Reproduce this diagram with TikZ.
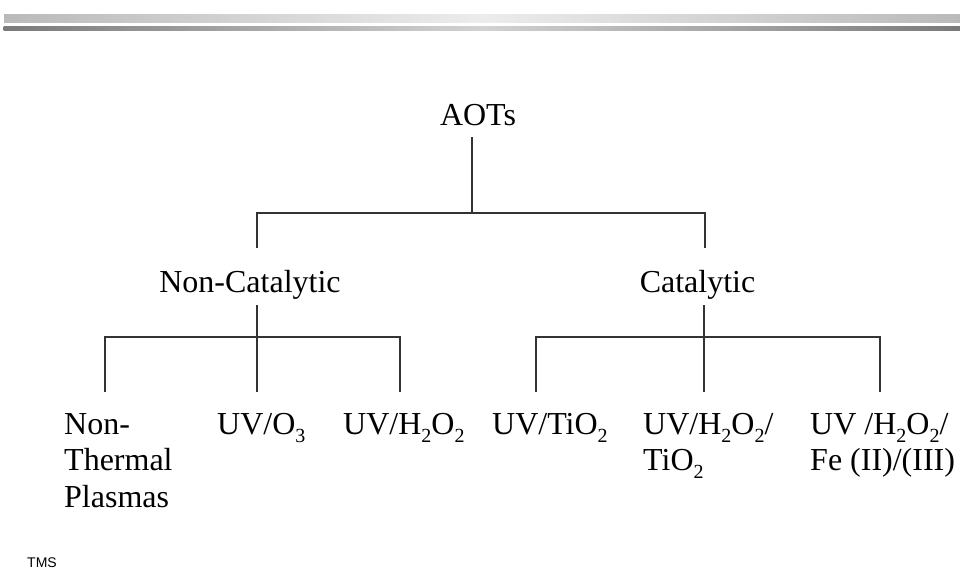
\documentclass[tikz,border=0pt]{standalone}
\usepackage{fontspec}
\setmainfont{Liberation Serif}
\newfontfamily\tmsfont{Liberation Sans}
\newcommand\sbx[1]{\raisebox{-8pt}{\fontsize{20}{20}\selectfont #1}}
\definecolor{barlight}{HTML}{BABABA}
\definecolor{barlightmid}{HTML}{ECECEC}
\definecolor{bardark}{HTML}{7A7A7A}
\definecolor{bardarkmid}{HTML}{D2D2D2}
\definecolor{linec}{HTML}{333333}
\begin{document}
\begin{tikzpicture}[x=1pt,y=-1pt,
  lbl/.style={inner sep=0pt, font=\fontsize{32}{36.5}\selectfont, text depth=0pt},
  leaf/.style={lbl, anchor=base west, align=left},
  conn/.style={draw=linec, line width=1.3pt}]
\useasboundingbox (0,0) rectangle (960,570);
% header bars
\shade[left color=barlight, right color=barlight, middle color=barlightmid] (4,14) rectangle (960,22);
\shade[left color=bardark, right color=bardark, middle color=bardarkmid] (3.5,26) rectangle (960,30);
% nodes (multi-line nodes are placed by the baseline of their last line)
\node[lbl, anchor=base] (aots) at (478,125) {AOTs};
\node[lbl, anchor=base] (noncat) at (250,292) {Non-Catalytic};
\node[lbl, anchor=base] (cat) at (697.5,292) {Catalytic};
\node[leaf] (ntp) at (64,507) {Non-\\Thermal\\Plasmas};
\node[leaf] (uvo3) at (217,434) {UV/O\sbx{3}};
\node[leaf] (uvh2o2) at (343,434) {UV/H\sbx{2}O\sbx{2}};
\node[leaf] (uvtio2) at (492,434) {UV/TiO\sbx{2}};
\node[leaf] (uvht) at (643,470.5) {UV/H\sbx{2}O\sbx{2}/\\TiO\sbx{2}};
\node[leaf] (uvhf) at (810,470.5) {UV /H\sbx{2}O\sbx{2}/\\Fe (II)/(III)};
\node[inner sep=0pt, anchor=base west, font=\tmsfont\fontsize{14}{14}\selectfont] (tms) at (27,567) {TMS};
% junction coordinates
\coordinate (a0) at (472,137);
\coordinate (a1) at (472,213);
\coordinate (al) at (257,213);
\coordinate (ar) at (705,213);
\coordinate (ald) at (257,248);
\coordinate (ard) at (705,248);
\coordinate (n0) at (257,305);
\coordinate (n1) at (257,337);
\coordinate (nl) at (105,337);
\coordinate (nr) at (400,337);
\coordinate (nld) at (105,392);
\coordinate (nmd) at (257,392);
\coordinate (nrd) at (400,392);
\coordinate (c0) at (704,305);
\coordinate (c1) at (704,337);
\coordinate (cl) at (536,337);
\coordinate (cr) at (880,337);
\coordinate (cld) at (536,392);
\coordinate (cmd) at (704,392);
\coordinate (crd) at (880,392);
% connectors
\draw[conn] (a0) -- (a1);
\draw[conn] (ald) -- (al) -- (ar) -- (ard);
\draw[conn] (n0) -- (nmd);
\draw[conn] (nld) -- (nl) -- (nr) -- (nrd);
\draw[conn] (c0) -- (cmd);
\draw[conn] (cld) -- (cl) -- (cr) -- (crd);
\end{tikzpicture}
\end{document}
